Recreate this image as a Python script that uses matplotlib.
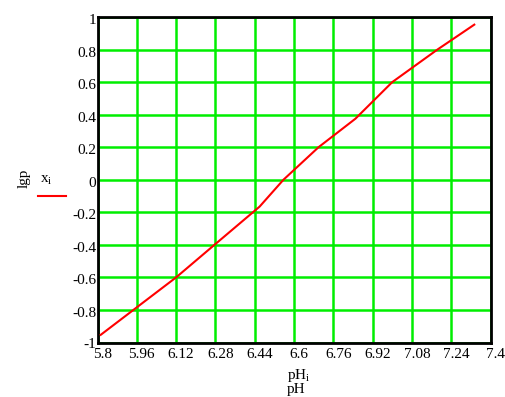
import matplotlib.pyplot as plt
import matplotlib.transforms as mtransforms

ph = [5.813, 6.12, 6.28, 6.46, 6.557, 6.70, 6.85, 7.0, 7.184, 7.334]
lgp = [-0.953, -0.6, -0.395, -0.165, 0.0, 0.2, 0.375, 0.6, 0.8, 0.953]

xticks = [5.8, 5.96, 6.12, 6.28, 6.44, 6.6, 6.76, 6.92, 7.08, 7.24, 7.4]
yticks = [-1, -0.8, -0.6, -0.4, -0.2, 0, 0.2, 0.4, 0.6, 0.8, 1]

plt.rcParams['font.family'] = 'Liberation Serif'

fig = plt.figure(figsize=(5.05, 3.97), dpi=100)
ax = fig.add_axes([97.5 / 505, 1 - 342.5 / 397, 393 / 505, 325.5 / 397])

ax.plot(ph, lgp, color='red', lw=1.5, zorder=3)

ax.set_xlim(5.8, 7.4)
ax.set_ylim(-1, 1)
ax.set_xticks(xticks)
ax.set_yticks(yticks)
ax.set_xticklabels([('%g' % t) for t in xticks], fontsize=11)
ax.set_yticklabels([('%g' % t) for t in yticks], fontsize=11)
ax.tick_params(axis='x', length=0, pad=4)
ax.tick_params(axis='y', length=0, pad=1)
# mathcad puts the x labels a bit to the right of the grid lines
shift = mtransforms.ScaledTranslation(5 / 100, 0, fig.dpi_scale_trans)
for lab in ax.get_xticklabels():
    lab.set_transform(lab.get_transform() + shift)
shift_y = mtransforms.ScaledTranslation(0, -2 / 100, fig.dpi_scale_trans)
for lab in ax.get_yticklabels()[1:]:
    lab.set_transform(lab.get_transform() + shift_y)

ax.grid(True, color='#00ee00', lw=1.8)
ax.set_axisbelow(True)
for s in ax.spines.values():
    s.set_linewidth(2)
    s.set_color('black')

# axis labels like the original
fig.text(299 / 505, 1 - 376 / 397, 'pH$_\\mathregular{i}$', fontsize=11, ha='center', va='center')
fig.text(296 / 505, 1 - 390 / 397, 'pH', fontsize=11, ha='center', va='center')
fig.text(24 / 505, 1 - 178 / 397, 'lgp', fontsize=11, rotation=90, ha='center', va='center')
fig.text(46 / 505, 1 - 180 / 397, 'x$_\\mathregular{i}$', fontsize=11, ha='center', va='center')
fig.add_artist(plt.Line2D([38 / 505, 66 / 505], [1 - 196 / 397, 1 - 196 / 397], color='red', lw=1.5))

fig.savefig('out.png', dpi=100)
